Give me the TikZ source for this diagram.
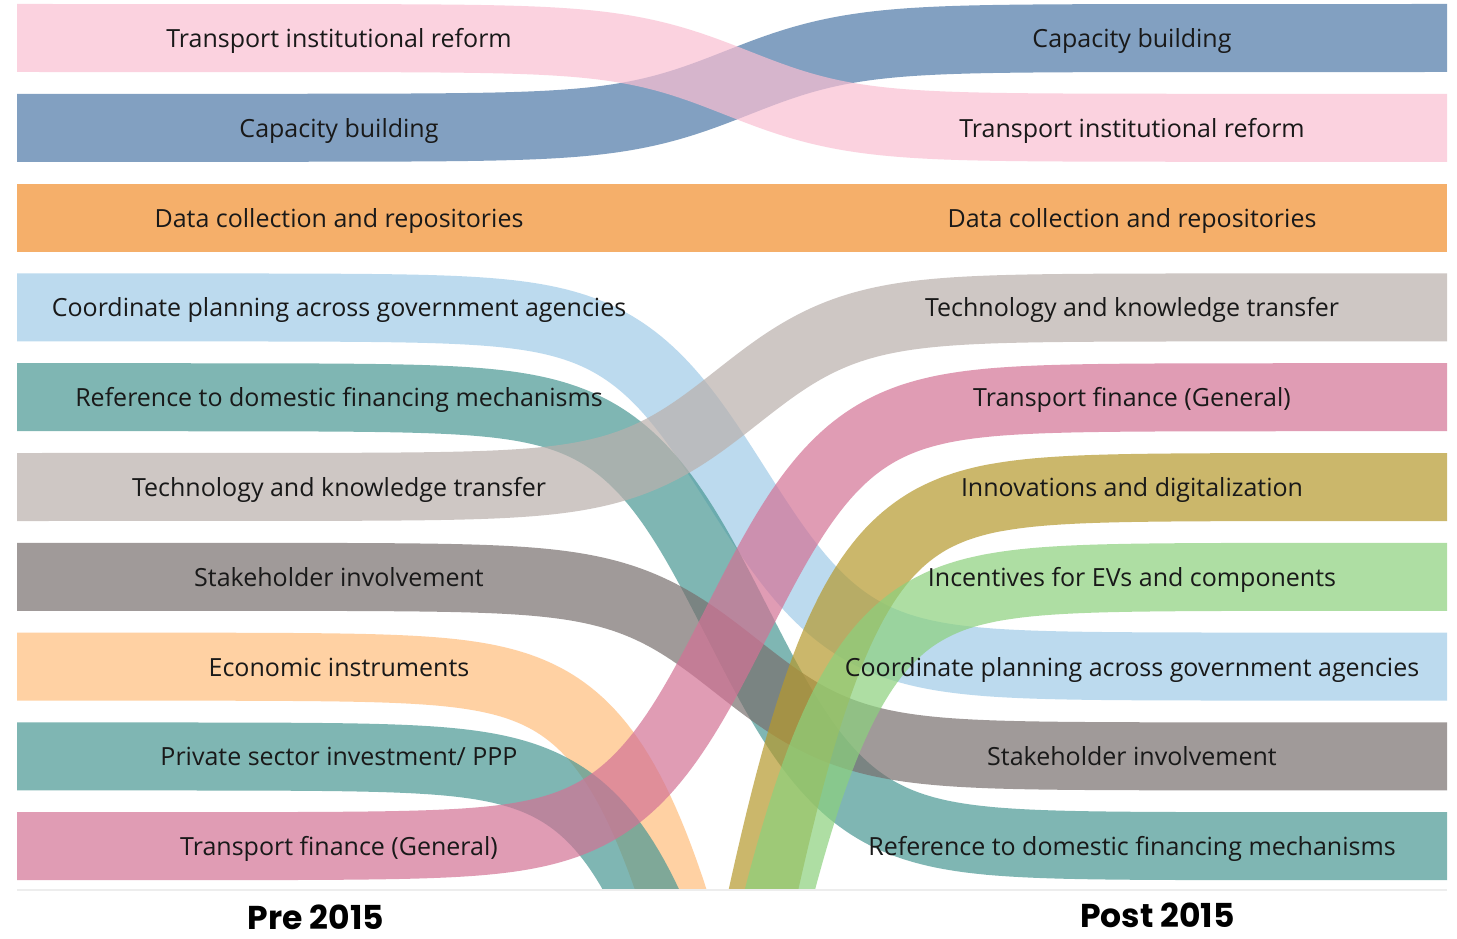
\documentclass[tikz,border=0pt]{standalone}
\usepackage{fontspec}
\setmainfont{Open Sans}
\newfontfamily\yearfont{Poppins}
\definecolor{cCap}{HTML}{4E79A7}
\definecolor{cTir}{HTML}{FABFD2}
\definecolor{cData}{HTML}{F28E2B}
\definecolor{cCoord}{HTML}{A0CBE8}
\definecolor{cRef}{HTML}{499894}
\definecolor{cTech}{HTML}{BAB0AC}
\definecolor{cStake}{HTML}{79706E}
\definecolor{cEcon}{HTML}{FFBE7D}
\definecolor{cPriv}{HTML}{499894}
\definecolor{cFin}{HTML}{D37295}
\definecolor{cInno}{HTML}{B6992D}
\definecolor{cInc}{HTML}{8CD17D}
\begin{document}
\begin{tikzpicture}[x=1pt,y=-1pt,
  band/.style={line width=68pt, draw opacity=0.7, line join=round},
  lab/.style={font=\fontsize{25}{25}\selectfont, text=black!90, anchor=base, inner sep=0pt},
  yearlab/.style={font=\yearfont\bfseries\fontsize{33}{33}\selectfont, text=black, anchor=base, inner sep=0pt}]
\useasboundingbox (0,0) rectangle (1457,939);
\fill[white] (0,0) rectangle (1457,939);
\def\kk{0.0175}
\def\cc{737}
\newcommand\drawband[4]{%
  \draw[band,#1] (17,#2) -- plot[domain=225:1249,samples=206] (\x,{#2+(#3-#2)/(1+exp(-\kk*(\x-#4)))}) -- (1447,#3);}
\def\rA{38}\def\rB{127.8}\def\rC{217.6}\def\rD{307.4}\def\rE{397.2}
\def\rF{487}\def\rG{576.8}\def\rH{666.6}\def\rI{756.4}\def\rJ{846.2}
\def\off{1600}
\begin{scope}
\clip (17,0) rectangle (1447,890);
\drawband{cCap}{\rB}{\rA}{\cc}
\drawband{cTir}{\rA}{\rB}{\cc}
\drawband{cData}{\rC}{\rC}{\cc}
\drawband{cCoord}{\rD}{\rH}{\cc}
\drawband{cRef}{\rE}{\rJ}{\cc}
\drawband{cTech}{\rF}{\rD}{\cc}
\drawband{cStake}{\rG}{\rI}{\cc}
\drawband{cEcon}{\rH}{\off}{\cc}
\drawband{cPriv}{\rI}{\off}{\cc}
\drawband{cFin}{\rJ}{\rE}{\cc}
\drawband{cInno}{\off}{\rF}{731}
\drawband{cInc}{\off}{\rG}{733}
\end{scope}
\coordinate (bl) at (17,890);
\coordinate (br) at (1447,890);
\draw[black!7, line width=1.5pt] (bl) -- (br);
\def\bs{9.5}
% left labels
\node[lab] (L1) at (339,\rA+\bs) {Transport institutional reform};
\node[lab] (L2) at (339,\rB+\bs) {Capacity building};
\node[lab] (L3) at (339,\rC+\bs) {Data collection and repositories};
\node[lab] (L4) at (339,\rD+\bs) {Coordinate planning across government agencies};
\node[lab] (L5) at (339,\rE+\bs) {Reference to domestic financing mechanisms};
\node[lab] (L6) at (339,\rF+\bs) {Technology and knowledge transfer};
\node[lab] (L7) at (339,\rG+\bs) {Stakeholder involvement};
\node[lab] (L8) at (339,\rH+\bs) {Economic instruments};
\node[lab] (L9) at (339,\rI+\bs) {Private sector investment/ PPP};
\node[lab] (L10) at (339,\rJ+\bs) {Transport finance (General)};
% right labels
\node[lab] (R1) at (1132,\rA+\bs) {Capacity building};
\node[lab] (R2) at (1132,\rB+\bs) {Transport institutional reform};
\node[lab] (R3) at (1132,\rC+\bs) {Data collection and repositories};
\node[lab] (R4) at (1132,\rD+\bs) {Technology and knowledge transfer};
\node[lab] (R5) at (1132,\rE+\bs) {Transport finance (General)};
\node[lab] (R6) at (1132,\rF+\bs) {Innovations and digitalization};
\node[lab] (R7) at (1132,\rG+\bs) {Incentives for EVs and components};
\node[lab] (R8) at (1132,\rH+\bs) {Coordinate planning across government agencies};
\node[lab] (R9) at (1132,\rI+\bs) {Stakeholder involvement};
\node[lab] (R10) at (1132,\rJ+\bs) {Reference to domestic financing mechanisms};
\node[yearlab] (pre) at (316,929.5) {Pre 2015};
\node[yearlab] (post) at (1157.5,927) {Post 2015};
\end{tikzpicture}
\end{document}
